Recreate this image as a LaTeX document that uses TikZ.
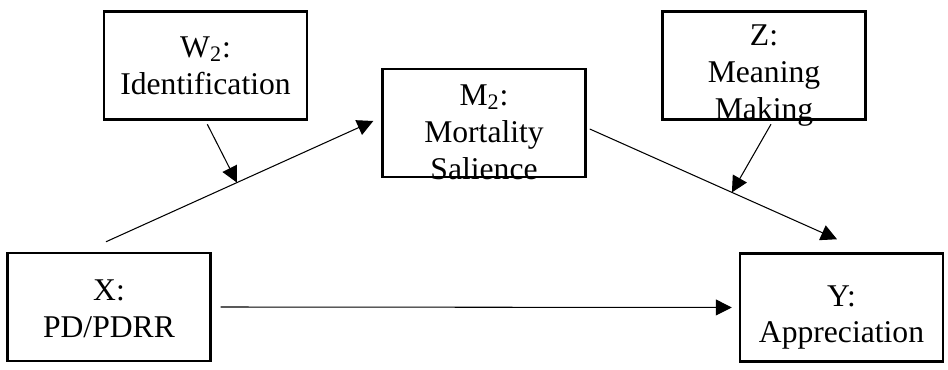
\documentclass[tikz,border=0pt]{standalone}
\usepackage{fontspec}
\setmainfont{Liberation Serif}
\usetikzlibrary{arrows.meta}

\begin{document}
\begin{tikzpicture}[
    var/.style={draw, line width=1.4pt, minimum width=4.06cm, minimum height=2.16cm,
                inner sep=0pt},
    txt/.style={align=center, font=\fontsize{18}{21}\selectfont},
    arr/.style={line width=0.6pt, -{Triangle[length=0.32cm, width=0.32cm]}}
]
    \useasboundingbox (0,0) rectangle (18.96,7.4);
    % variables
    \node[var, label={[txt]center:{W\textsubscript{2}:\\Identification}}] (w2) at (4.11,6.09) {};
    \node[var, label={[txt, yshift=-0.18cm]center:{M\textsubscript{2}:\\Mortality\\Salience}}] (m2) at (9.68,4.94) {};
    \node[var, label={[txt, yshift=-0.2cm]center:{Z:\\Meaning\\Making}}] (z) at (15.28,6.09) {};
    \node[var, label={[txt, yshift=-0.04cm]center:{X:\\PD/PDRR}}] (x) at (2.18,1.26) {};
    \node[var, label={[txt, yshift=-0.2cm]center:{Y:\\Appreciation}}] (y) at (16.83,1.25) {};
    % paths
    \draw[arr] ([shift={(-0.06,0.2)}]x.north) -- coordinate[pos=0.49] (xm) ([shift={(-0.16,0.04)}]m2.west);
    \draw[arr, shorten <=0.08cm] (w2.south) -- (xm);
    \draw[arr] ([shift={(0.06,-0.12)}]m2.east) -- coordinate[pos=0.575] (my) ([shift={(-0.09,0.26)}]y.north);
    \draw[arr, shorten <=0.08cm] ([xshift=0.18cm]z.south) -- (my);
    \draw[arr, shorten <=0.18cm, shorten >=0.14cm] (x.east) -- (y.west);
\end{tikzpicture}
\end{document}
